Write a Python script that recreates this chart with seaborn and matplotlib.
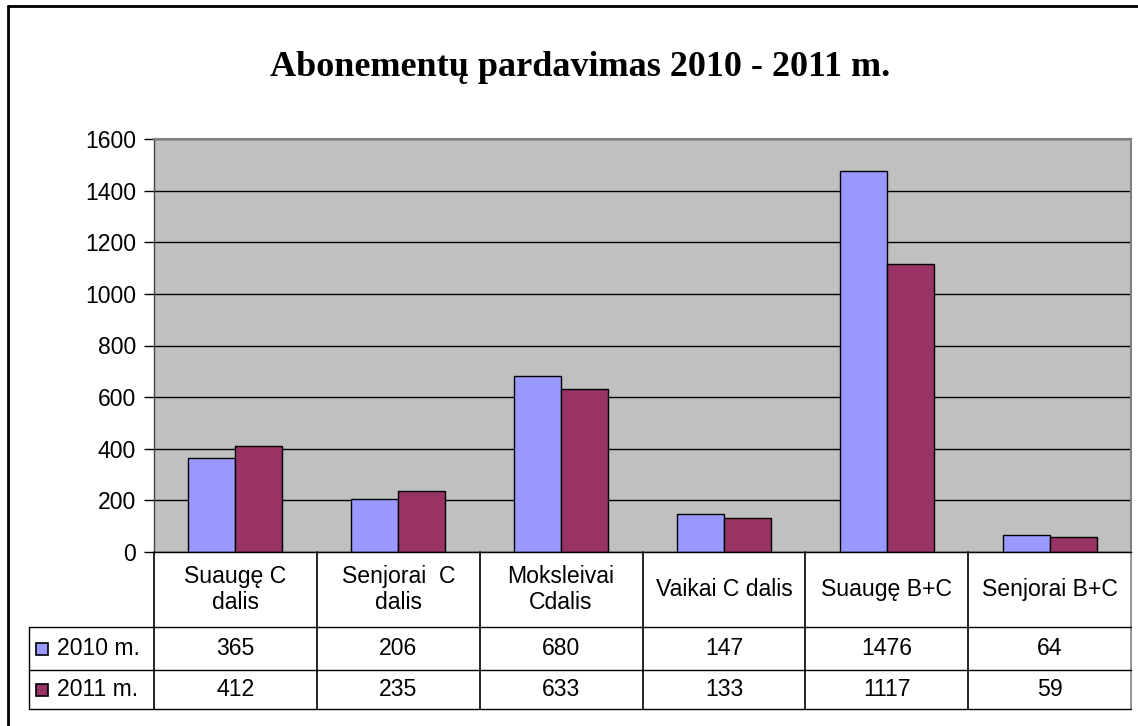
import matplotlib
matplotlib.use("Agg")
import matplotlib.pyplot as plt
from matplotlib.lines import Line2D
from matplotlib.patches import Rectangle
import seaborn as sns
import pandas as pd

categories = ["Suaugę C\ndalis", "Senjorai  C\ndalis", "Moksleivai\nCdalis",
              "Vaikai C dalis", "Suaugę B+C", "Senjorai B+C"]
series_names = ["2010 m.", "2011 m."]
values_2010 = [365, 206, 680, 147, 1476, 64]
values_2011 = [412, 235, 633, 133, 1117, 59]
y_ticks = [0, 200, 400, 600, 800, 1000, 1200, 1400, 1600]
title = "Abonementų pardavimas 2010 - 2011 m."
colors = ["#9999FF", "#993366"]

df = pd.DataFrame({
    "cat": categories * 2,
    "val": values_2010 + values_2011,
    "year": [series_names[0]] * len(categories) + [series_names[1]] * len(categories),
})

sns.set_theme(style="white")
plt.rcParams["font.family"] = ["Liberation Sans", "DejaVu Sans"]
plt.rcParams["text.color"] = "black"

FS = 16.6
W, H = 1138, 726
fig = plt.figure(figsize=(W / 100, H / 100), dpi=100)
fig.patch.set_facecolor("white")

ax_l, ax_r, ax_t, ax_b = 154, 1131, 139, 552
ax = fig.add_axes([ax_l / W, 1 - ax_b / H, (ax_r - ax_l) / W, (ax_b - ax_t) / H])
ax.set_facecolor("#C0C0C0")

sns.barplot(data=df, x="cat", y="val", hue="year", palette=colors,
            edgecolor="black", linewidth=1.0, width=0.577, ax=ax,
            legend=False, saturation=1, order=categories, hue_order=series_names)

ax.set_xlim(-0.5, len(categories) - 0.5)
ax.set_ylim(0, 1600)
ax.set_yticks(y_ticks)
ax.set_yticklabels([str(v) for v in y_ticks], fontsize=FS, color="black")
ax.set_xticks([])
ax.set_xlabel("")
ax.set_ylabel("")
ax.yaxis.grid(True, color="black", linewidth=1.0)
ax.set_axisbelow(True)
ax.tick_params(axis="y", which="both", left=True, length=7, width=1, color="black", pad=6)
for side in ["top", "right"]:
    ax.spines[side].set_color("#808080")
    ax.spines[side].set_linewidth(1.5)
ax.spines["left"].set_color("#444444")
ax.spines["bottom"].set_color("black")
for side in ["left", "bottom"]:
    ax.spines[side].set_linewidth(1.0)

ax_h = ax_b - ax_t
ax_w = ax_r - ax_l
def ay(py):
    return (ax_b - py) / ax_h
def axx(px):
    return (px - ax_l) / ax_w

tr = ax.transAxes
y_head_bot = ay(627)
y_row_mid = ay(670)
y_bot = ay(709)
x_leg = axx(29)

lk = dict(transform=tr, clip_on=False, color="black", linewidth=1.0)
for i in range(len(categories) + 1):
    x = i / len(categories)
    col = "#808080" if i == len(categories) else "black"
    ax.add_line(Line2D([x, x], [0, y_bot], transform=tr, clip_on=False,
                       color=col, linewidth=1.2))
ax.add_line(Line2D([x_leg, x_leg], [y_head_bot, y_bot], **lk))
for yy in [y_head_bot, y_row_mid, y_bot]:
    ax.add_line(Line2D([x_leg, 1], [yy, yy], **lk))

for i, c in enumerate(categories):
    ax.text(i, ay((552 + 627) / 2), c, transform=ax.get_xaxis_transform(),
            ha="center", va="center", fontsize=FS, linespacing=1.22,
            color="black", clip_on=False)

rows = [values_2010, values_2011]
row_mids = [ay((627 + 670) / 2), ay((670 + 709) / 2)]
for r, (vals, ym) in enumerate(zip(rows, row_mids)):
    for i, v in enumerate(vals):
        ax.text(i, ym, str(v), transform=ax.get_xaxis_transform(),
                ha="center", va="center", fontsize=FS, color="black", clip_on=False)
    sq = 12
    ax.add_patch(Rectangle((axx(36), ym - (sq / 2) / ax_h), sq / ax_w, sq / ax_h,
                           transform=tr, clip_on=False, facecolor=colors[r],
                           edgecolor="black", linewidth=1.2))
    ax.text(axx(57), ym, series_names[r], transform=tr, ha="left", va="center",
            fontsize=FS, color="black", clip_on=False)

fig.text(580 / W, 1 - 68 / H, title, ha="center", va="center", fontsize=26,
         fontweight="bold", color="black", family=["Liberation Serif", "DejaVu Serif"])

fig.add_artist(Line2D([8 / W, 8 / W], [0, 1 - 6 / H], transform=fig.transFigure,
                      color="black", linewidth=2))
fig.add_artist(Line2D([8 / W, 1], [1 - 6 / H, 1 - 6 / H], transform=fig.transFigure,
                      color="black", linewidth=2))

fig.savefig("out.png", dpi=100, facecolor="white")
